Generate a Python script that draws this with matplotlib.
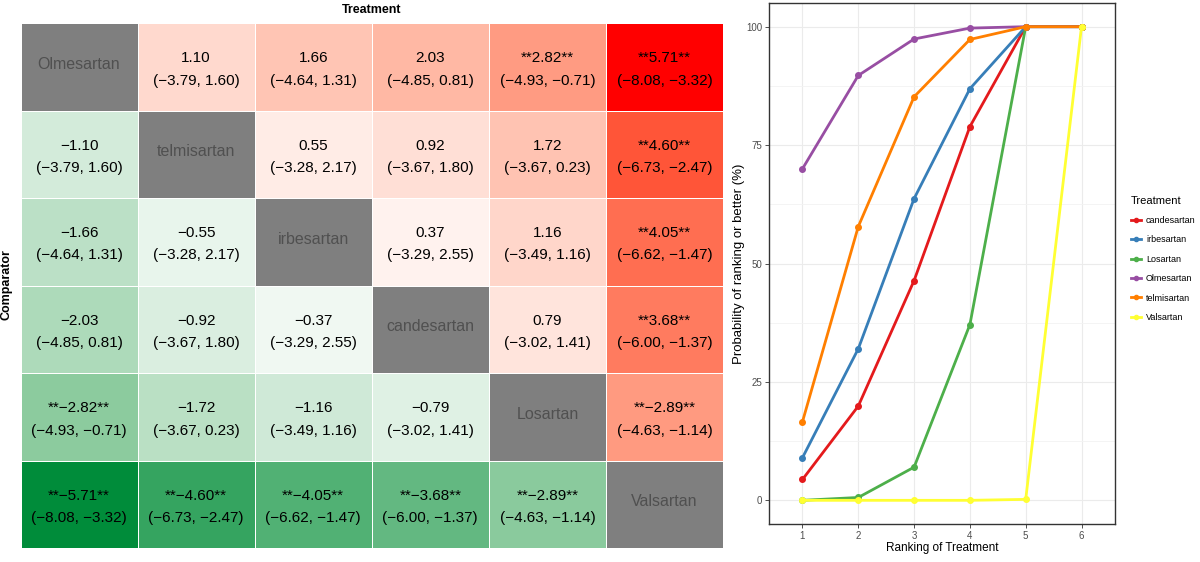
import matplotlib
matplotlib.use("Agg")
import matplotlib.pyplot as plt
from matplotlib.colors import LinearSegmentedColormap, Normalize
from matplotlib.lines import Line2D
import numpy as np

plt.rcParams["font.family"] = ["Liberation Sans", "DejaVu Sans"]

# ---------------------------------------------------------------------------
# League table (heatmap) data
# ---------------------------------------------------------------------------
treatments = ["Olmesartan", "telmisartan", "irbesartan", "candesartan", "Losartan", "Valsartan"]

# upper-triangle cells, row-major (row i, col j, i < j)
pair_rows = [0, 0, 0, 0, 0, 1, 1, 1, 1, 2, 2, 2, 3, 3, 4]
pair_cols = [1, 2, 3, 4, 5, 2, 3, 4, 5, 3, 4, 5, 4, 5, 5]
upper_est = [1.10, 1.66, 2.03, 2.82, 5.71, 0.55, 0.92, 1.72, 4.60, 0.37, 1.16, 4.05, 0.79, 3.68, -2.89]
ci_low = [-3.79, -4.64, -4.85, -4.93, -8.08, -3.28, -3.67, -3.67, -6.73, -3.29, -3.49, -6.62, -3.02, -6.00, -4.63]
ci_high = [1.60, 1.31, 0.81, -0.71, -3.32, 2.17, 1.80, 0.23, -2.47, 2.55, 1.16, -1.47, 1.41, -1.37, -1.14]
significant = [False, False, False, True, True, False, False, False, True, False, False, True, False, True, True]

# ---------------------------------------------------------------------------
# Cumulative ranking data
# ---------------------------------------------------------------------------
ranks = [1, 2, 3, 4, 5, 6]
rank_names = ["candesartan", "irbesartan", "Losartan", "Olmesartan", "telmisartan", "Valsartan"]
cum_candesartan = [4.4, 19.9, 46.4, 78.9, 100, 100]
cum_irbesartan = [9.0, 32.0, 63.7, 86.9, 100, 100]
cum_losartan = [0.0, 0.6, 7.0, 37.1, 100, 100]
cum_olmesartan = [70.0, 89.7, 97.4, 99.7, 100, 100]
cum_telmisartan = [16.6, 57.8, 85.2, 97.3, 100, 100]
cum_valsartan = [0.0, 0.0, 0.0, 0.0, 0.2, 100]
rank_colors = ["#E41A1C", "#377EB8", "#4DAF4A", "#984EA3", "#FF7F00", "#FFFF33"]


def fmt(v):
    return f"{v:.2f}".replace("-", "\u2212")


def cell_text(est, lo, hi, sig):
    e = fmt(est)
    if sig:
        e = f"**{e}**"
    return f"{e}\n({fmt(lo)}, {fmt(hi)})"


n = len(treatments)
fill = np.full((n, n), np.nan)
for i, j, e in zip(pair_rows, pair_cols, upper_est):
    fill[i, j] = abs(e)
    fill[j, i] = -abs(e)

cmap = LinearSegmentedColormap.from_list(
    "gr", [(0.0, "#008C3A"), (0.25, "#8CCB9E"), (0.5, "#FFFFFF"),
           (0.72, "#FFA88F"), (0.9, "#FF5A3C"), (1.0, "#FF0000")])
cmap.set_bad("#7F7F7F")
vmax = max(abs(v) for v in upper_est)

fig = plt.figure(figsize=(12, 5.62), dpi=100)

# ---- left: league table ----
axH = fig.add_axes([20.5 / 1200, 1 - 548 / 562, (723 - 20.5) / 1200, (548 - 23) / 562])
axH.pcolormesh(np.ma.masked_invalid(fill), cmap=cmap, norm=Normalize(-vmax, vmax),
               edgecolor="white", linewidth=0.4)
axH.set_xlim(0, n)
axH.set_ylim(n, 0)
axH.axis("off")

for k in range(n):
    axH.text(k + 0.5, k + 0.47, treatments[k], ha="center", va="center",
             fontsize=11.5, color="#505050")
for i, j, e, lo, hi, s in zip(pair_rows, pair_cols, upper_est, ci_low, ci_high, significant):
    axH.text(j + 0.5, i + 0.53, cell_text(e, lo, hi, s), ha="center", va="center",
             fontsize=11, linespacing=1.75, color="black")
    axH.text(i + 0.5, j + 0.53, cell_text(-abs(e), lo, hi, s), ha="center", va="center",
             fontsize=11, linespacing=1.75, color="black")

fig.text(372 / 1200, 1 - 10 / 562, "Treatment", ha="center", va="center",
         fontsize=9, fontweight="bold")
fig.text(7 / 1200, 1 - 285 / 562, "Comparator", ha="center", va="center",
         rotation=90, fontsize=9, fontweight="bold")

# ---- right: cumulative ranking curves ----
axR = fig.add_axes([769 / 1200, 1 - 524 / 562, (1115 - 769) / 1200, (524 - 3) / 562])
series = [cum_candesartan, cum_irbesartan, cum_losartan, cum_olmesartan,
          cum_telmisartan, cum_valsartan]
for name, vals, col in zip(rank_names, series, rank_colors):
    axR.plot(ranks, vals, "-o", color=col, lw=2.0, ms=4, label=name)

axR.set_xlim(0.4, 6.6)
axR.set_ylim(-5, 105)
axR.set_xticks(ranks)
axR.set_yticks([0, 25, 50, 75, 100])
axR.set_yticks([12.5, 37.5, 62.5, 87.5], minor=True)
axR.grid(True, which="major", color="#EBEBEB", lw=0.8)
axR.grid(True, which="minor", axis="y", color="#F3F3F3", lw=0.6)
axR.set_axisbelow(True)
axR.tick_params(which="major", labelsize=7, labelcolor="#4D4D4D", color="#333333",
                length=3, width=0.6, pad=2)
axR.tick_params(which="minor", length=0)
for sp in axR.spines.values():
    sp.set_color("#333333")
    sp.set_linewidth(1.0)
axR.set_xlabel("Ranking of Treatment", fontsize=8.5, labelpad=1)
axR.set_ylabel("Probability of ranking or better (%)", fontsize=9.5, labelpad=1)

handles = [Line2D([], [], color=c, lw=2.0, marker="o", ms=3) for c in rank_colors]
leg = fig.legend(handles, rank_names, loc="upper left",
                 bbox_to_anchor=(1127 / 1200, 1 - 192 / 562), frameon=False,
                 title="Treatment", fontsize=6.5, title_fontsize=8,
                 handlelength=1.1, handletextpad=0.6, labelspacing=1.15,
                 alignment="left", borderaxespad=0)

fig.savefig("out.png", dpi=100)
plt.close(fig)
